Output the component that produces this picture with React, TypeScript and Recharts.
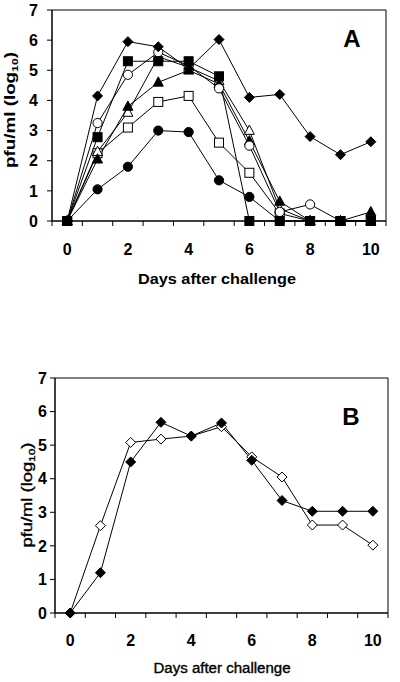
import { LineChart, Line, XAxis, YAxis, ReferenceArea, Label } from "recharts";

const FONT = "'Liberation Sans', Arial, sans-serif";

const days = [0, 1, 2, 3, 4, 5, 6, 7, 8, 9, 10];
const dayLabels = [0, 2, 4, 6, 8, 10];
const dayMarks = [-0.5, 0.5, 1.5, 2.5, 3.5, 4.5, 5.5, 6.5, 7.5, 8.5, 9.5, 10.5];
const logTicks = [0, 1, 2, 3, 4, 5, 6, 7];

// panel A
const aFilledCircle = [0, 1.05, 1.8, 3.0, 2.95, 1.35, 0.8, 0, 0, 0, 0];
const aOpenSquare = [0, 2.25, 3.1, 3.95, 4.15, 2.6, 1.6, 0.25, 0, 0, 0];
const aOpenTriangle = [0, 2.3, 3.6, 5.45, 5.1, 4.65, 3.0, 0.4, 0, 0, 0];
const aFilledTriangle = [0, 2.05, 3.8, 4.6, 5.0, 4.55, 2.65, 0.65, 0, 0, 0.3];
const aOpenCircle = [0, 3.25, 4.85, 5.6, 5.15, 4.4, 2.5, 0.3, 0.55, 0, 0];
const aFilledSquare = [0, 2.78, 5.3, 5.3, 5.3, 4.8, 0, 0, 0, 0, 0];
const aFilledDiamond = [0, 4.15, 5.95, 5.78, 5.05, 6.02, 4.1, 4.2, 2.8, 2.2, 2.63];

// panel B
const bFilledDiamond = [0, 1.2, 4.5, 5.68, 5.27, 5.66, 4.55, 3.35, 3.03, 3.03, 3.03];
const bOpenDiamond = [0, 2.6, 5.08, 5.18, 5.27, 5.55, 4.65, 4.05, 2.62, 2.62, 2.02];

const dataA = days.map((d, i) => ({
  day: d,
  fc: aFilledCircle[i],
  os: aOpenSquare[i],
  ot: aOpenTriangle[i],
  ft: aFilledTriangle[i],
  oc: aOpenCircle[i],
  fs: aFilledSquare[i],
  fd: aFilledDiamond[i],
}));

const dataB = days.map((d, i) => ({
  day: d,
  od: bOpenDiamond[i],
  fd: bFilledDiamond[i],
}));

type Kind = "diamond" | "square" | "circle" | "triangle";

function Marker({ cx, cy, kind, filled }: { cx: number; cy: number; kind: Kind; filled: boolean }) {
  const fill = filled ? "#000" : "#fff";
  const common = { fill, stroke: "#000", strokeWidth: 1 };
  if (cx == null || cy == null) return null;
  if (kind === "diamond") {
    const h = 5;
    return <polygon points={`${cx},${cy - h} ${cx + h},${cy} ${cx},${cy + h} ${cx - h},${cy}`} {...common} />;
  }
  if (kind === "square") {
    return <rect x={cx - 4.5} y={cy - 4.5} width={9} height={9} {...common} />;
  }
  if (kind === "circle") {
    return <circle cx={cx} cy={cy} r={4.6} {...common} />;
  }
  return <polygon points={`${cx},${cy - 5.5} ${cx + 5},${cy + 3.8} ${cx - 5},${cy + 3.8}`} {...common} />;
}

const dotOf = (kind: Kind, filled: boolean) => (p: any) =>
  <Marker key={p.index} cx={p.cx} cy={p.cy} kind={kind} filled={filled} />;

function DayTick({ x, y, payload, offset, weight }: any) {
  const v = payload.value;
  if (v % 1 !== 0) {
    return <line x1={x} x2={x} y1={y} y2={y + 5} stroke="#000" />;
  }
  if (v % 2 !== 0) return null;
  return (
    <text x={x} y={y + offset} textAnchor="middle" fontFamily={FONT} fontSize={16} fontWeight={weight} fill="#000">
      {v}
    </text>
  );
}

function YTitle({ x, y, length, size, weight, thick }: any) {
  return (
    <text
      x={x}
      y={y}
      transform={`rotate(-90, ${x}, ${y})`}
      textAnchor="middle"
      textLength={length}
      lengthAdjust="spacingAndGlyphs"
      fontFamily={FONT}
      fontSize={size}
      fontWeight={weight}
      fill="#000"
      stroke={thick ? "#000" : "none"}
      strokeWidth={thick ? 0.35 : 0}
    >
      pfu/ml (log
      <tspan fontSize={size * 0.65} dy={3}>10</tspan>
      <tspan dy={-3}>)</tspan>
    </text>
  );
}

function XTitle({ x, y, length, size, weight, thick }: any) {
  return (
    <text
      x={x}
      y={y}
      textAnchor="middle"
      textLength={length}
      lengthAdjust="spacingAndGlyphs"
      fontFamily={FONT}
      fontSize={size}
      fontWeight={weight}
      fill="#000"
      stroke={thick ? "#000" : "none"}
      strokeWidth={thick ? 0.35 : 0}
    >
      Days after challenge
    </text>
  );
}

function PanelLetter({ x, y, text }: any) {
  return (
    <text x={x} y={y} textAnchor="middle" fontFamily={FONT} fontSize={24} fontWeight="bold" fill="#000">
      {text}
    </text>
  );
}

const xTicks = [...dayMarks, ...dayLabels].sort((a, b) => a - b);

export default function App() {
  return (
    <div style={{ position: "absolute", left: 0, top: 0, width: 400, height: 682, background: "#fff" }}>
      <LineChart width={400} height={340} data={dataA} margin={{ top: 10, right: 14, left: 0, bottom: 89 }}>
        <ReferenceArea x1={-0.5} x2={10.5} y1={0} y2={7} fill="none" stroke="#000" strokeWidth={1} fillOpacity={0} />
        <XAxis
          dataKey="day"
          type="number"
          domain={[-0.5, 10.5]}
          ticks={xTicks}
          interval={0}
          tickLine={false}
          tickSize={0}
          tickMargin={0}
          height={30}
          axisLine={{ stroke: "#000" }}
          tick={(p: any) => <DayTick key={p.index} {...p} offset={34} weight="bold" />}
        >
          <Label content={() => <XTitle x={217} y={284} length={158} size={15} weight="bold" />} />
        </XAxis>
        <YAxis
          type="number"
          domain={[0, 7]}
          ticks={logTicks}
          interval={0}
          width={52}
          tickSize={5}
          tickMargin={9}
          axisLine={{ stroke: "#000" }}
          tickLine={{ stroke: "#000" }}
          tick={{ fill: "#000", fontSize: 16, fontWeight: "bold", fontFamily: FONT }}
        >
          <Label content={() => <YTitle x={15} y={110} length={116} size={15} weight="bold" />} />
          <Label content={() => <PanelLetter x={352} y={47} text="A" />} />
        </YAxis>
        <Line dataKey="fc" stroke="#000" strokeWidth={1} isAnimationActive={false} dot={dotOf("circle", true)} />
        <Line dataKey="os" stroke="#000" strokeWidth={1} isAnimationActive={false} dot={dotOf("square", false)} />
        <Line dataKey="ot" stroke="#000" strokeWidth={1} isAnimationActive={false} dot={dotOf("triangle", false)} />
        <Line dataKey="ft" stroke="#000" strokeWidth={1} isAnimationActive={false} dot={dotOf("triangle", true)} />
        <Line dataKey="oc" stroke="#000" strokeWidth={1} isAnimationActive={false} dot={dotOf("circle", false)} />
        <Line dataKey="fd" stroke="#000" strokeWidth={1} isAnimationActive={false} dot={dotOf("diamond", true)} />
        <Line dataKey="fs" stroke="#000" strokeWidth={1} isAnimationActive={false} dot={dotOf("square", true)} />
      </LineChart>

      <LineChart width={400} height={342} data={dataB} margin={{ top: 38, right: 12, left: 0, bottom: 39 }}>
        <ReferenceArea x1={-0.5} x2={10.5} y1={0} y2={7} fill="none" stroke="#000" strokeWidth={1} fillOpacity={0} />
        <XAxis
          dataKey="day"
          type="number"
          domain={[-0.5, 10.5]}
          ticks={xTicks}
          interval={0}
          tickLine={false}
          tickSize={0}
          tickMargin={0}
          height={30}
          axisLine={{ stroke: "#000" }}
          tick={(p: any) => <DayTick key={p.index} {...p} offset={33} weight="bold" />}
        >
          <Label content={() => <XTitle x={222} y={333} length={137} size={14} weight="normal" thick />} />
        </XAxis>
        <YAxis
          type="number"
          domain={[0, 7]}
          ticks={logTicks}
          interval={0}
          width={55}
          tickSize={5}
          tickMargin={3}
          axisLine={{ stroke: "#000" }}
          tickLine={{ stroke: "#000" }}
          tick={{ fill: "#000", fontSize: 16, fontWeight: "bold", fontFamily: FONT }}
        >
          <Label content={() => <YTitle x={32} y={155} length={105} size={14} weight="normal" thick />} />
          <Label content={() => <PanelLetter x={351} y={85} text="B" />} />
        </YAxis>
        <Line dataKey="od" stroke="#000" strokeWidth={1} isAnimationActive={false} dot={dotOf("diamond", false)} />
        <Line dataKey="fd" stroke="#000" strokeWidth={1} isAnimationActive={false} dot={dotOf("diamond", true)} />
      </LineChart>
    </div>
  );
}
